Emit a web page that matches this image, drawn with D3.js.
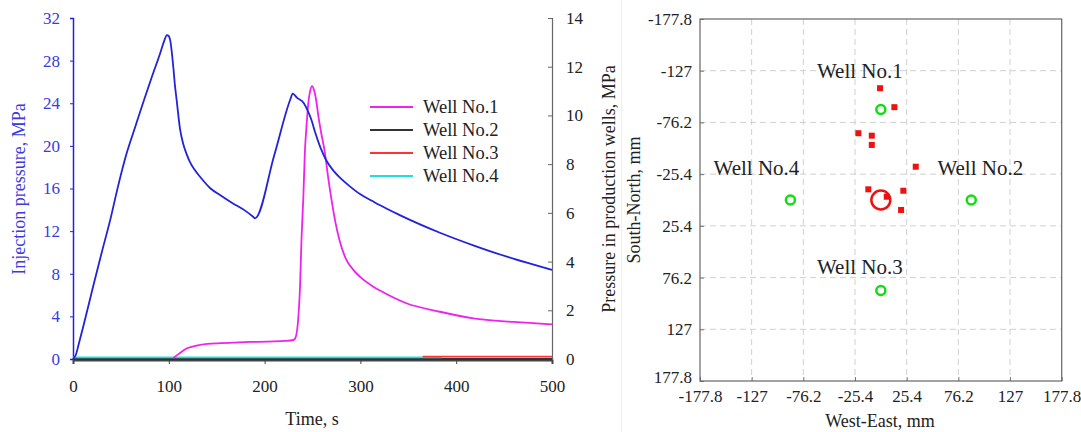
<!DOCTYPE html>
<html>
<head>
<meta charset="utf-8">
<script src="https://cdn.jsdelivr.net/npm/d3@7"></script>
<style>
  body { margin: 0; background: #fff; }
  text { font-family: "Liberation Serif", "Times New Roman", serif; }
</style>
</head>
<body>
<svg id="viz" width="1081" height="432"></svg>
<script>
// ---- left panel data (time, s / pressure, MPa) ----
var injT = [0, 3, 6, 10, 21, 30, 39, 47, 56, 65, 73, 82, 91, 95, 98, 100, 101.5, 104.7, 106.5, 108.2, 111.7, 115, 118.7, 122, 127, 132.6, 143, 155, 167, 180, 188, 190, 210, 227, 229.3, 234, 241, 245, 249, 253, 258, 264, 272, 280, 289, 300, 312, 320, 340, 383, 420, 453, 480, 500];
var injP = [0, 0.4, 1.4, 2.8, 6.8, 10.0, 13.1, 16.2, 19.3, 21.8, 24.0, 26.4, 28.7, 29.8, 30.4, 30.3, 29.9, 27.4, 25.6, 24.3, 21.6, 20.2, 19.2, 18.5, 17.75, 17.1, 16.05, 15.3, 14.6, 13.9, 13.35, 13.2, 19.1, 24.4, 24.9, 24.5, 24.0, 23.3, 22.4, 21.2, 19.9, 18.7, 17.65, 16.9, 16.2, 15.45, 14.85, 14.45, 13.55, 11.85, 10.6, 9.6, 8.88, 8.36];

var well1T = [105, 110, 119, 130, 140, 155, 167, 185, 202, 220, 230, 232, 235, 237, 238.6, 240.4, 242, 244, 245.6, 247.5, 249.5, 251.5, 254.3, 256, 259, 263, 266, 270, 274, 278.7, 285, 292.6, 300, 313.5, 320, 348, 383, 418, 460, 500];
var well1P = [0.05, 0.2, 0.44, 0.56, 0.62, 0.65, 0.67, 0.7, 0.71, 0.74, 0.78, 0.85, 1.6, 3.0, 5.0, 6.6, 8.45, 9.7, 10.5, 11.0, 11.2, 11.05, 10.5, 10.0, 9.3, 8.45, 7.55, 6.5, 5.6, 4.8, 4.1, 3.66, 3.36, 2.97, 2.82, 2.29, 1.94, 1.67, 1.52, 1.42];
var well2T = [0, 500];
var well2P = [0, 0];
var well3T = [365, 500];
var well3P = [0.1, 0.1];
var well4T = [0, 385];
var well4P = [0.07, 0.07];

var legendNames = ["Well No.1", "Well No.2", "Well No.3", "Well No.4"];
var xTicks = [0, 100, 200, 300, 400, 500];
var yLeftTicks = [0, 4, 8, 12, 16, 20, 24, 28, 32];
var yRightTicks = [0, 2, 4, 6, 8, 10, 12, 14];

// ---- right panel data (mm) ----
var gridTicks = [-177.8, -127, -76.2, -25.4, 25.4, 76.2, 127, 177.8];
var wellNames = ["Well No.1", "Well No.2", "Well No.3", "Well No.4"];
var wellX = [0, 88.9, 0, -88.9];
var wellY = [-88.9, 0, 88.9, 0];
var injX = [0];
var injY = [0];
var eventX = [-0.8, 13.3, -22.1, -8.9, -8.9, 34.3, -12.3, 22.1, 5.8, 19.9];
var eventY = [-109.8, -91.2, -65.6, -63.2, -54.1, -32.7, -10.5, -9.1, -3.2, 9.8];

var svg = d3.select("#viz");
svg.append("rect").attr("width", 1081).attr("height", 432).attr("fill", "#fff");
svg.append("line").attr("x1", 621.5).attr("x2", 621.5).attr("y1", 0).attr("y2", 432)
    .attr("stroke", "#f0f0f0").attr("stroke-width", 1);

var blue = "#2222dd";
var x = d3.scaleLinear().domain([0, 500]).range([73, 552]);
var yL = d3.scaleLinear().domain([0, 32]).range([359, 18]);
var yR = d3.scaleLinear().domain([0, 14]).range([359, 18]);

function pts(t, v) { return t.map(function(d, i) { return [d, v[i]]; }); }

// left axis
var gl = svg.append("g").attr("transform", "translate(73,0)")
    .call(d3.axisLeft(yL).tickValues(yLeftTicks).tickSizeOuter(0).tickSize(3).tickPadding(10));
gl.select(".domain").attr("stroke", blue).attr("stroke-width", 1.5);
gl.selectAll(".tick line").attr("stroke", blue);
gl.selectAll("text").attr("fill", "#3a3ae0").style("font-size", "17px");

// bottom axis
var gb = svg.append("g").attr("transform", "translate(0,360)")
    .call(d3.axisBottom(x).tickValues(xTicks).tickSizeOuter(0).tickSize(4).tickPadding(16));
gb.select(".domain").attr("stroke", "#444").attr("stroke-width", 2);
gb.selectAll(".tick line").attr("stroke", "#444");
gb.selectAll("text").attr("fill", "#222").style("font-size", "17px");

// right axis
var gr = svg.append("g").attr("transform", "translate(552,0)")
    .call(d3.axisRight(yR).tickValues(yRightTicks).tickSizeOuter(0).tickSize(-4).tickPadding(14));
gr.select(".domain").attr("stroke", "#666").attr("stroke-width", 1.2);
gr.selectAll(".tick line").attr("stroke", "#666");
gr.selectAll("text").attr("fill", "#222").style("font-size", "17px");

// lines
var lineL = d3.line().x(d => x(d[0])).y(d => yL(d[1])).curve(d3.curveMonotoneX);
var lineR = d3.line().x(d => x(d[0])).y(d => yR(d[1])).curve(d3.curveMonotoneX);

var series = [
    { data: pts(well2T, well2P), color: "#333333" },
    { data: pts(well4T, well4P), color: "#22dddd" },
    { data: pts(well3T, well3P), color: "#ff3333" },
    { data: pts(well1T, well1P), color: "#ee22ee" }
];
series.forEach(function(s) {
    svg.append("path").datum(s.data).attr("d", lineR)
        .attr("fill", "none").attr("stroke", s.color).attr("stroke-width", 1.8);
});
svg.append("path").datum(pts(injT, injP)).attr("d", lineL)
    .attr("fill", "none").attr("stroke", blue).attr("stroke-width", 1.8);

// legend
var legendColors = ["#ee22ee", "#333333", "#ff3333", "#22dddd"];
var legend = svg.selectAll(".legend").data(legendNames).enter().append("g")
    .attr("class", "legend")
    .attr("transform", function(d, i) { return "translate(370," + (107 + i * 23) + ")"; });
legend.append("line").attr("x1", 0).attr("x2", 43).attr("y1", 0).attr("y2", 0)
    .attr("stroke", (d, i) => legendColors[i]).attr("stroke-width", 1.8);
legend.append("text").attr("x", 53).attr("dy", "0.35em").style("font-size", "18.5px")
    .attr("fill", "#222").text(d => d);

// axis titles
svg.append("text").attr("transform", "translate(19,189) rotate(-90)")
    .attr("text-anchor", "middle").attr("dy", "0.35em").style("font-size", "18px")
    .attr("fill", "#3a3ae0").text("Injection pressure, MPa");
svg.append("text").attr("x", 312).attr("y", 425).attr("text-anchor", "middle")
    .style("font-size", "18px").attr("fill", "#222").text("Time, s");
svg.append("text").attr("transform", "translate(609,189) rotate(-90)")
    .attr("text-anchor", "middle").attr("dy", "0.35em").style("font-size", "18px")
    .attr("fill", "#222").text("Pressure in production wells, MPa");

// ---- right panel ----
var px = d3.scaleLinear().domain([-177.8, 177.8]).range([700, 1061.7]);
var py = d3.scaleLinear().domain([-177.8, 177.8]).range([19, 381]);
var fmt = d => String(d);

var grid = svg.append("g");
grid.selectAll(".vg").data(gridTicks.slice(1, -1)).enter().append("line")
    .attr("x1", d => px(d)).attr("x2", d => px(d)).attr("y1", 19).attr("y2", 381)
    .attr("stroke", "#d0d0d0").attr("stroke-dasharray", "6,4");
grid.selectAll(".hg").data(gridTicks.slice(1, -1)).enter().append("line")
    .attr("y1", d => py(d)).attr("y2", d => py(d)).attr("x1", 700).attr("x2", 1061.7)
    .attr("stroke", "#d0d0d0").attr("stroke-dasharray", "6,4");

var ax = svg.append("g").attr("transform", "translate(0,381)")
    .call(d3.axisBottom(px).tickValues(gridTicks).tickFormat(fmt).tickSizeOuter(0).tickSize(-4).tickPadding(9));
var ay = svg.append("g").attr("transform", "translate(700,0)")
    .call(d3.axisLeft(py).tickValues(gridTicks).tickFormat(fmt).tickSizeOuter(0).tickSize(-4).tickPadding(8));
[ax, ay].forEach(function(a) {
    a.select(".domain").remove();
    a.selectAll(".tick line").attr("stroke", "#777");
    a.selectAll("text").attr("fill", "#222").style("font-size", "17px");
});
// lift the bottom-most y label slightly so it clears the x labels
ay.selectAll(".tick").filter(d => d === 177.8).select("text").attr("dy", "0.1em");
svg.append("rect").attr("x", 700).attr("y", 19).attr("width", 361.7).attr("height", 362)
    .attr("fill", "none").attr("stroke", "#666").attr("stroke-width", 1.2);

svg.append("text").attr("x", 880).attr("y", 427).attr("text-anchor", "middle")
    .style("font-size", "18px").attr("fill", "#222").text("West-East, mm");
svg.append("text").attr("transform", "translate(634,200) rotate(-90)")
    .attr("text-anchor", "middle").attr("dy", "0.35em").style("font-size", "18px")
    .attr("fill", "#222").text("South-North, mm");

// event squares
svg.selectAll(".ev").data(eventX).enter().append("rect")
    .attr("x", (d, i) => px(d) - 3).attr("y", (d, i) => py(eventY[i]) - 3)
    .attr("width", 6).attr("height", 6).attr("fill", "#ee1111");
// injection well
svg.selectAll(".inj").data(injX).enter().append("circle")
    .attr("cx", d => px(d)).attr("cy", (d, i) => py(injY[i])).attr("r", 9.5)
    .attr("fill", "none").attr("stroke", "#ee1111").attr("stroke-width", 2.5);
// production wells
svg.selectAll(".well").data(wellX).enter().append("circle")
    .attr("cx", d => px(d)).attr("cy", (d, i) => py(wellY[i])).attr("r", 4.5)
    .attr("fill", "none").attr("stroke", "#11dd11").attr("stroke-width", 2.5);
var labelOff = [[-21, -32], [9, -25], [-21, -16.5], [-34, -25]];
svg.selectAll(".wlab").data(wellNames).enter().append("text")
    .attr("x", (d, i) => px(wellX[i]) + labelOff[i][0])
    .attr("y", (d, i) => py(wellY[i]) + labelOff[i][1])
    .attr("text-anchor", "middle").style("font-size", "21px").attr("fill", "#222")
    .text(d => d);
</script>
</body>
</html>
